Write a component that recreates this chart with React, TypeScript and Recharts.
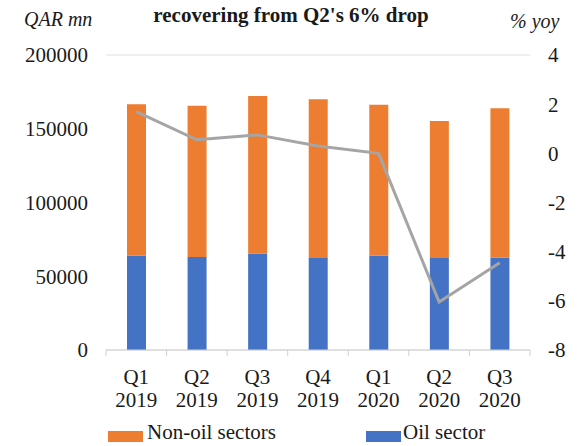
import { ComposedChart, Bar, Line, XAxis, YAxis, CartesianGrid, Legend } from 'recharts';

const quarters = ['Q1 2019', 'Q2 2019', 'Q3 2019', 'Q4 2019', 'Q1 2020', 'Q2 2020', 'Q3 2020'];
const oilSector = [63900, 63100, 65500, 62400, 63900, 62400, 62600];
const nonOilSectors = [102700, 102500, 106700, 107600, 102400, 92900, 101300];
const growthYoy = [1.7, 0.55, 0.75, 0.3, 0.0, -6.05, -4.45];

const leftTicks = [0, 50000, 100000, 150000, 200000];
const rightTicks = [-8, -6, -4, -2, 0, 2, 4];

const data = quarters.map((q, i) => ({
    name: q,
    oil: oilSector[i],
    nonOil: nonOilSectors[i],
    yoy: growthYoy[i],
}));

const FONT = '"Liberation Serif", "Times New Roman", serif';
const ORANGE = '#ED7D31';
const BLUE = '#4472C4';
const GREY = '#A5A5A5';
const BAND = (530 - 106) / quarters.length;

const QuarterTick = (props: any) => {
    const { x, y, payload, index } = props;
    const [q, yr] = String(payload.value).split(' ');
    const axisY = y - 8;
    return (
        <g>
            {index === 0 && (
                <line x1={x - BAND / 2} x2={x - BAND / 2} y1={axisY} y2={axisY + 6} stroke="#d0d0d0" />
            )}
            <line x1={x + BAND / 2} x2={x + BAND / 2} y1={axisY} y2={axisY + 6} stroke="#d0d0d0" />
            <text x={x} y={axisY + 34} textAnchor="middle" fontFamily={FONT} fontSize={21} fill="#1a1a1a">
                {q}
            </text>
            <text x={x} y={axisY + 57} textAnchor="middle" fontFamily={FONT} fontSize={21} fill="#1a1a1a">
                {yr}
            </text>
        </g>
    );
};

const LegendBox = () => (
    <div style={{ position: 'relative', height: 26, fontFamily: FONT, fontSize: 21, lineHeight: '24px', color: '#1a1a1a' }}>
        <span style={{ position: 'absolute', left: 108, top: 11, width: 35, height: 11, background: ORANGE }} />
        <span style={{ position: 'absolute', left: 147, top: 0, whiteSpace: 'nowrap' }}>Non-oil sectors</span>
        <span style={{ position: 'absolute', left: 366, top: 11, width: 35, height: 11, background: BLUE }} />
        <span style={{ position: 'absolute', left: 403, top: 0, whiteSpace: 'nowrap' }}>Oil sector</span>
    </div>
);

export default function App() {
    return (
        <div style={{ position: 'fixed', left: 0, top: 0, width: 581, height: 446, background: '#fff' }}>
            <ComposedChart
                width={581}
                height={446}
                data={data}
                margin={{ top: 55, right: 0, bottom: 0, left: 0 }}
                barSize={19}
            >
                <CartesianGrid vertical={false} stroke="#e0e0e0" />
                <XAxis
                    dataKey="name"
                    height={70}
                    tickLine={false}
                    axisLine={{ stroke: '#d0d0d0' }}
                    tick={<QuarterTick />}
                    interval={0}
                />
                <YAxis
                    yAxisId="left"
                    orientation="left"
                    width={106}
                    domain={[0, 200000]}
                    ticks={leftTicks}
                    axisLine={false}
                    tickLine={false}
                    tickMargin={12}
                    tick={{ fontFamily: FONT, fontSize: 21, fill: '#1a1a1a' }}
                />
                <YAxis
                    yAxisId="right"
                    orientation="right"
                    width={51}
                    domain={[-8, 4]}
                    ticks={rightTicks}
                    axisLine={false}
                    tickLine={false}
                    tickMargin={12}
                    tick={{ fontFamily: FONT, fontSize: 21, fill: '#1a1a1a' }}
                />
                <Bar yAxisId="left" dataKey="oil" name="Oil sector" stackId="gdp" fill={BLUE} isAnimationActive={false} />
                <Bar yAxisId="left" dataKey="nonOil" name="Non-oil sectors" stackId="gdp" fill={ORANGE} isAnimationActive={false} />
                <Line
                    yAxisId="right"
                    dataKey="yoy"
                    name="% yoy"
                    stroke={GREY}
                    strokeWidth={3}
                    dot={false}
                    isAnimationActive={false}
                />
                <Legend verticalAlign="bottom" height={26} content={<LegendBox />} />
                <text x={291} y={22} textAnchor="middle" fontFamily={FONT} fontSize={21} fontWeight="bold" fill="#1a1a1a">
                    recovering from Q2's 6% drop
                </text>
                <text x={24} y={26} fontFamily={FONT} fontSize={20} fontStyle="italic" fill="#1a1a1a">
                    QAR mn
                </text>
                <text x={510} y={28} fontFamily={FONT} fontSize={20} fontStyle="italic" fill="#1a1a1a">
                    % yoy
                </text>
            </ComposedChart>
        </div>
    );
}
